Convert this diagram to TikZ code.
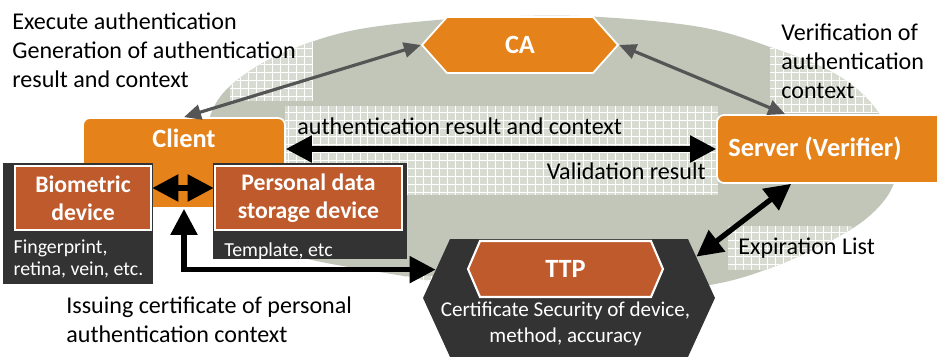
\documentclass[tikz,border=0pt]{standalone}
\usepackage{fontspec}
\setmainfont{Carlito}
\usetikzlibrary{arrows.meta,positioning,shapes.symbols}

\definecolor{oval}{HTML}{C1C6B9}
\definecolor{patch}{HTML}{D8DBD2}
\definecolor{tangerine}{HTML}{E5821A}
\definecolor{rust}{HTML}{BE5A2C}
\definecolor{slate}{HTML}{333333}
\definecolor{arrowgray}{HTML}{555555}

\newcommand{\notefont}{\fontsize{13.7}{16.5}\selectfont}
\newcommand{\capfont}{\fontsize{11.3}{12.6}\selectfont}
\newcommand{\titlefont}{\fontsize{15}{18}\selectfont\bfseries}
\newcommand{\boxfont}{\fontsize{13.5}{16}\selectfont\bfseries}

\tikzset{
	%Define standard arrow tip
	>={Triangle[length=0.52cm,width=0.52cm]},
	%Define style for boxes
	orangebox/.style={
		rectangle,
		rounded corners=4pt,
		draw=white, line width=1pt,
		fill=tangerine,
		inner sep=0pt},
	rustbox/.style={
		rectangle,
		draw=white, line width=1.5pt,
		fill=rust,
		text=white,
		font=\boxfont,
		align=center,
		inner sep=0pt},
	darkbox/.style={
		rectangle,
		fill=slate,
		inner sep=0pt},
	hexa/.style={
		signal,
		signal to=east and west,
		inner sep=0pt},
	% Define text styles
	boxtitle/.style={text=white, font=\titlefont, inner sep=0pt},
	whitecap/.style={text=white, font=\capfont, align=left, inner sep=0pt},
	blacknote/.style={font=\notefont, align=left, inner sep=0pt},
	patchgrid/.style={white, line width=0.5pt, step=0.16cm},
	% Define arrow style
	pil/.style={
		<->,
		line width=3pt},
	greypil/.style={
		{Triangle[length=0.34cm,width=0.3cm]}-{Triangle[length=0.34cm,width=0.3cm]},
		draw=arrowgray,
		line width=1.8pt}
}

\begin{document}
\begin{tikzpicture}[x=0.02cm, y=-0.02cm]
	\useasboundingbox (0,0) rectangle (937,357);

	% grey oval with the patterned text areas
	\begin{scope}
		\clip[preaction={fill=oval}] plot[smooth cycle, tension=0.6] coordinates {
			(520,16) (600,17) (700,27) (770,47) (837,75) (878,112) (896,160) (891,190)
			(867,218) (830,241) (773,267) (710,285) (600,298) (480,293) (420,279) (300,257)
			(240,228) (212,180) (207,135) (216,103) (240,78) (283,53) (350,31) (437,20)};
		\foreach \ax/\ay/\bx/\by in {230/0/312/101, 285/106/718/195, 770/0/900/113, 728/226/852/270, 380/276/440/345}{
			\fill[patch] (\ax,\ay) rectangle (\bx,\by);
			\draw[patchgrid] (\ax,\ay) grid (\bx,\by);
		}
	\end{scope}

	\node[hexa, fill=tangerine, draw=white, line width=1pt, minimum width=3.92cm, minimum height=1.12cm,
		signal pointer angle=96.5, text=white, font=\titlefont] (ca) at (520,45) {CA};

	\node[orangebox, minimum width=4.04cm, minimum height=1.8cm] (client) at (184,163) {};
	\node[boxtitle, anchor=base] (clienttitle) at (184,148) {Client};

	\node[orangebox, minimum width=4.66cm, minimum height=1.36cm] (server) at (833.5,149) {};
	\node[boxtitle, anchor=base] (servertitle) at (815,157) {Server (Verifier)};

	\node[darkbox, minimum width=3cm, minimum height=2.42cm] (biocase) at (78,223.5) {};
	\node[darkbox, minimum width=3.88cm, minimum height=1.92cm] (perscase) at (310,211) {};
	\node[rustbox, minimum width=2.72cm, minimum height=1.28cm] (bio) at (83,198) {Biometric\\device};
	\node[rustbox, minimum width=3.74cm, minimum height=1.28cm] (pers) at (308.5,198) {Personal data\\storage device};
	\node[whitecap, below right=0.16cm and -2.78cm of bio] (finger) {Fingerprint,\\retina, vein, etc.};
	\node[whitecap, anchor=base west] (templ) at (224,257) {Template, etc};

	\node[hexa, fill=slate, minimum width=5.84cm, minimum height=2.36cm, signal pointer angle=130.8] (ttpframe) at (569,298) {};
	\node[hexa, fill=rust, draw=white, line width=1.2pt, minimum width=3.9cm, minimum height=1.12cm,
		signal pointer angle=133.6, text=white, font=\titlefont] (ttp) at (565.5,269) {TTP};
	\node[whitecap, align=center, font=\fontsize{12}{14.8}\selectfont, below=0.06cm of ttp] (ttpcap) {Certificate Security of device,\\method, accuracy};

	% labels
	\node[blacknote, anchor=north west] (exec) at (12,12) {Execute authentication\\Generation of authentication\\result and context};
	\node[blacknote, anchor=base west] (result) at (297,135) {authentication result and context};
	\node[blacknote, anchor=base east] (valid) at (706,180) {Validation result};
	\node[blacknote, anchor=north west] (verif) at (781,24) {Verification of\\authentication\\context};
	\node[blacknote, anchor=base west] (expir) at (738,255) {Expiration List};
	\node[blacknote, anchor=north west] (issue) at (66,296) {Issuing certificate of personal\\authentication context};

	% connectors
	\draw[greypil] (client.north) -- (ca.west);
	\draw[greypil] (ca.east) -- ([xshift=1.38cm]server.north west);
	\draw[pil] (client.east |- server.west) -- (server.west);
	\draw[pil] ([yshift=0.2cm]bio.east) -- ([yshift=0.2cm]pers.west);
	\draw[pil] (client.south) |- (ttpframe.168);
	\draw[pil] (ttpframe.18) -- ([xshift=1.5cm]server.south west);
\end{tikzpicture}
\end{document}
